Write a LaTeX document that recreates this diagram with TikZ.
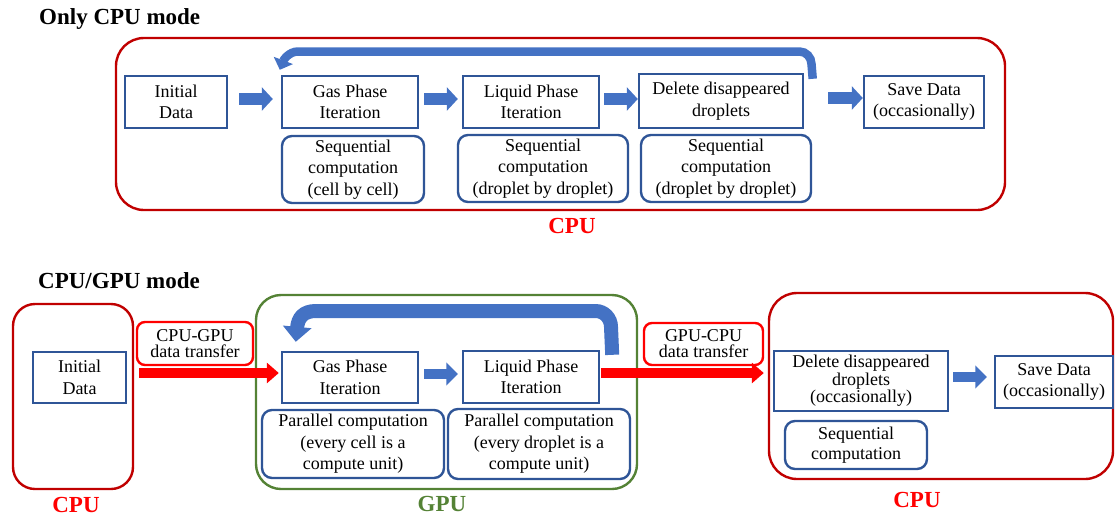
\documentclass[tikz,border=0pt]{standalone}
\usepackage{fontspec}
\setmainfont{Liberation Serif}
\usetikzlibrary{arrows.meta}
\definecolor{bbord}{HTML}{2F5597}
\definecolor{bfill}{HTML}{4472C4}
\definecolor{dred}{HTML}{C00000}
\definecolor{bred}{HTML}{FF0000}
\definecolor{dgreen}{HTML}{548235}
\begin{document}
\begin{tikzpicture}[x=1pt,y=-1pt,
  txt/.style={font=\fontsize{18}{21.6}\selectfont, align=center, inner sep=0pt},
  tight/.style={font=\fontsize{18}{16}\selectfont},
  bbox/.style={txt, draw=bbord, line width=2.4pt, fill=white},
  rbox/.style={bbox, rounded corners=10pt},
  xbox/.style={txt, tight, draw=bred, line width=2.4pt, fill=white, rounded corners=8pt},
  container/.style={line width=2.4pt, rounded corners=#1, inner sep=0pt},
  title/.style={font=\bfseries\fontsize{23}{27}\selectfont, inner sep=0pt, anchor=base west},
  lab/.style={font=\bfseries\fontsize{23}{27}\selectfont, inner sep=0pt, anchor=base},
  barrow/.style={draw=bfill, line width=12pt, -{Triangle[length=11pt,width=23pt]}},
  barrowb/.style={draw=bfill, line width=10.5pt, -{Triangle[length=11.5pt,width=22.5pt]}},
  rarrow/.style={draw=bred, line width=10pt, -{Triangle[length=12pt,width=20pt]}},
  looptop/.style={draw=bfill, line width=8.5pt, -{Triangle[length=10pt,width=20pt]}},
  loopbot/.style={draw=bfill, line width=14pt, -{Triangle[length=15pt,width=28pt]}}
]
\useasboundingbox (0,0) rectangle (1115,515);

% ---------- Only CPU mode ----------
\node[title] (t1) at (39,24) {Only CPU mode};
\node[container=28pt, draw=dred, minimum width=889pt, minimum height=172pt] (cpuTop) at (560.5,124) {};
\node[lab, text=bred] (l1) at (572,233) {CPU};

\node[bbox, minimum width=102pt, minimum height=52pt] (init1) at (176,102) {Initial\\Data};
\node[bbox, minimum width=136pt, minimum height=52pt] (gas1) at (350,102) {Gas Phase\\Iteration};
\node[bbox, minimum width=136pt, minimum height=52pt] (liq1) at (531,102) {Liquid Phase\\Iteration};
\node[bbox, minimum width=164pt, minimum height=54pt] (del1) at (721,101) {Delete disappeared\\droplets};
\node[bbox, minimum width=120pt, minimum height=52pt] (save1) at (924,102) {Save Data\\(occasionally)};

\node[rbox, minimum width=142pt, minimum height=67pt] (seq1a) at (353,169.5) {Sequential\\computation\\(cell by cell)};
\node[rbox, minimum width=170pt, minimum height=67pt] (seq1b) at (543,168.5) {Sequential\\computation\\(droplet by droplet)};
\node[rbox, minimum width=170pt, minimum height=67pt] (seq1c) at (726,168.5) {Sequential\\computation\\(droplet by droplet)};

\draw[barrow] ([shift={(11,-3)}]init1.east) -- ([shift={(-8,-3)}]gas1.west);
\draw[barrow] ([shift={(5,-3)}]gas1.east) -- ([shift={(-4,-3)}]liq1.west);
\draw[barrow] ([shift={(4,-3)}]liq1.east) -- ([shift={(0,-2)}]del1.west);
\draw[barrow] ([shift={(24,-3)}]del1.east) -- ([shift={(0,-4)}]save1.west);

\coordinate (lt1) at (811.5,64);
\coordinate (lt2) at (799.5,51.5);
\coordinate (lt3) at (298,51.5);
\draw[looptop] ([shift={(8.5,6)}]del1.north east) -- (lt1)
  .. controls (811.5,57.4) and (806.1,51.5) .. (lt2) -- (lt3)
  .. controls (289,51.5) and (283.5,60) .. ([shift={(-1,-5)}]gas1.north west);

% ---------- CPU/GPU mode ----------
\node[title] (t2) at (38,288) {CPU/GPU mode};

\node[container=22pt, draw=dred, minimum width=120pt, minimum height=185pt] (cpuA) at (73,396.5) {};
\node[container=25pt, draw=dgreen, minimum width=381pt, minimum height=194pt] (gpu) at (446.5,392) {};
\node[container=28pt, draw=dred, minimum width=344pt, minimum height=186pt] (cpuB) at (941,386) {};

\node[lab, text=bred] (l2) at (76,512) {CPU};
\node[lab, text=dgreen] (l3) at (442,511) {GPU};
\node[lab, text=bred] (l4) at (917,507) {CPU};

\node[xbox, minimum width=116pt, minimum height=43pt] (xf1) at (195,343.5) {CPU-GPU\\data transfer};
\node[xbox, minimum width=119pt, minimum height=42pt] (xf2) at (703.5,344) {GPU-CPU\\data transfer};

\node[bbox, minimum width=93pt, minimum height=51pt] (init2) at (79.5,377.5) {Initial\\Data};
\node[bbox, minimum width=136pt, minimum height=51pt] (gas2) at (350,377.5) {Gas Phase\\Iteration};
\node[bbox, minimum width=136pt, minimum height=52pt] (liq2) at (531,377) {Liquid Phase\\Iteration};
\node[rbox, minimum width=182pt, minimum height=68pt] (par1) at (353,444) {Parallel computation\\(every cell is a\\compute unit)};
\node[rbox, minimum width=182pt, minimum height=70pt] (par2) at (539,444) {Parallel computation\\(every droplet is a\\compute unit)};

\node[bbox, tight, minimum width=174pt, minimum height=60pt] (del2) at (861,381) {Delete disappeared\\droplets\\(occasionally)};
\node[bbox, minimum width=118pt, minimum height=52pt] (save2) at (1054,382) {Save Data\\(occasionally)};
\node[rbox, font=\fontsize{18}{20}\selectfont, minimum width=142pt, minimum height=48pt] (seq2) at (856,445) {Sequential\\computation};

\draw[rarrow] ([shift={(5,-23.5)}]cpuA.east) -- ([shift={(-2,-4.5)}]gas2.west);
\draw[rarrow] ([shift={(1,-4)}]liq2.east) -- ([shift={(-4,-13)}]cpuB.west);

\draw[barrowb] ([shift={(5,-3.5)}]gas2.east) -- ([shift={(-4,-3)}]liq2.west);
\draw[barrowb] ([shift={(4,-4)}]del2.east) -- ([shift={(-7,-5)}]save2.west);

\coordinate (lb1) at (611,327);
\coordinate (lb2) at (595.5,311);
\coordinate (lb3) at (316,311);
\draw[loopbot] ([shift={(12,5)}]liq2.north east) -- (lb1)
  .. controls (611,318.2) and (604.3,311) .. (lb2) -- (lb3)
  .. controls (303,311) and (298,318) .. ([shift={(15,-9)}]gas2.north west);
\end{tikzpicture}
\end{document}
